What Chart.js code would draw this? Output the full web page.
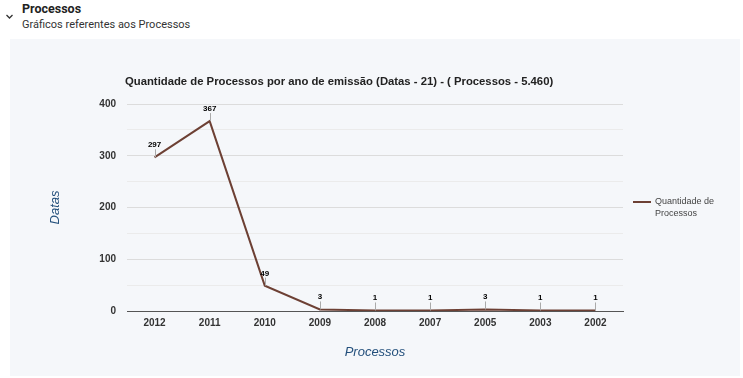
<!DOCTYPE html>
<html>
<head>
<meta charset="utf-8">
<script src="https://cdn.jsdelivr.net/npm/chart.js@4"></script>
<style>
  html, body { margin: 0; padding: 0; background: #ffffff; width: 743px; height: 378px; overflow: hidden; }
  #hdr-title { position: absolute; left: 22px; top: 1px; font-family: Roboto, "Noto Sans", sans-serif; font-weight: bold; font-size: 12.5px; color: #222; }
  #hdr-sub { position: absolute; left: 22px; top: 18px; font-family: Roboto, "Noto Sans", sans-serif; font-size: 11px; color: #333; }
  #chev { position: absolute; left: 5px; top: 13px; }
  #panel { position: absolute; left: 10px; top: 39px; width: 730px; height: 337px; background: #f5f7fa; }
  canvas { display: block; }
</style>
</head>
<body>
<svg id="chev" width="9" height="7" viewBox="0 0 9 7"><polyline points="1.5,2 4.5,5 7.5,2" fill="none" stroke="#333" stroke-width="1.3"/></svg>
<div id="hdr-title">Processos</div>
<div id="hdr-sub">Gráficos referentes aos Processos</div>
<div id="panel"><canvas id="c" width="730" height="337"></canvas></div>
<script>
const categories = ["2012", "2011", "2010", "2009", "2008", "2007", "2005", "2003", "2002"];
const seriesName = ["Quantidade de", "Processos"];
const values = [297, 367, 49, 3, 1, 1, 3, 1, 1];
const yTicks = [0, 100, 200, 300, 400];
const chartTitle = "Quantidade de Processos por ano de emissão (Datas - 21) - ( Processos - 5.460)";
const yTitle = "Datas";
const xTitle = "Processos";

const lineColor = "#6d4034";
const FONT = "Arial, 'Liberation Sans', sans-serif";

const decor = {
  id: 'decor',
  afterDatasetsDraw(chart) {
    const ctx = chart.ctx;
    const meta = chart.getDatasetMeta(0);
    ctx.save();
    meta.data.forEach((pt, i) => {
      ctx.strokeStyle = '#aaaaaa';
      ctx.lineWidth = 1;
      ctx.beginPath();
      ctx.moveTo(Math.round(pt.x) + 0.5, pt.y);
      ctx.lineTo(Math.round(pt.x) + 0.5, pt.y - 8);
      ctx.stroke();
      ctx.fillStyle = '#000';
      ctx.font = 'bold 8px ' + FONT;
      ctx.textAlign = 'center';
      ctx.textBaseline = 'alphabetic';
      ctx.fillText(String(values[i]), pt.x, pt.y - 10);
    });
    ctx.restore();
  },
  afterDraw(chart) {
    const ctx = chart.ctx;
    const a = chart.chartArea;
    ctx.save();
    // title
    ctx.fillStyle = '#222';
    ctx.font = 'bold 11.3px ' + FONT;
    ctx.textAlign = 'left';
    ctx.textBaseline = 'middle';
    ctx.fillText(chartTitle, a.left - 2, a.top - 22);
    // axis titles
    ctx.fillStyle = '#24507c';
    ctx.font = 'italic 13px ' + FONT;
    ctx.textAlign = 'center';
    ctx.fillText(xTitle, (a.left + a.right) / 2, a.bottom + 41);
    ctx.save();
    ctx.translate(a.left - 72, (a.top + a.bottom) / 2);
    ctx.rotate(-Math.PI / 2);
    ctx.fillText(yTitle, 0, 0);
    ctx.restore();
    // legend
    const ly = a.top + 98;
    ctx.strokeStyle = lineColor;
    ctx.lineWidth = 2;
    ctx.beginPath();
    ctx.moveTo(a.right + 10, ly);
    ctx.lineTo(a.right + 28, ly);
    ctx.stroke();
    ctx.fillStyle = '#444';
    ctx.font = '9px ' + FONT;
    ctx.textAlign = 'left';
    ctx.fillText(seriesName[0], a.right + 32, ly);
    ctx.fillText(seriesName[1], a.right + 32, ly + 12);
    ctx.restore();
  }
};

new Chart(document.getElementById('c'), {
  type: 'line',
  data: {
    labels: categories,
    datasets: [{
      label: seriesName.join(' '),
      data: values,
      borderColor: lineColor,
      backgroundColor: lineColor,
      borderWidth: 2,
      pointRadius: 0,
      tension: 0,
      fill: false
    }]
  },
  options: {
    responsive: false,
    animation: false,
    events: [],
    layout: { padding: { left: 77, right: 117, top: 65, bottom: 35 } },
    plugins: { legend: { display: false }, title: { display: false }, tooltip: { enabled: false } },
    scales: {
      x: {
        offset: true,
        grid: { display: false, drawTicks: false },
        border: { display: true, color: '#555', width: 1 },
        ticks: { color: '#333', font: { family: FONT, size: 10, weight: 'bold' }, padding: 6, maxRotation: 0, autoSkip: false },
        afterFit(s) { s.height = 30; }
      },
      y: {
        min: 0, max: 400,
        grid: {
          drawTicks: false,
          color: (c) => (c.tick && c.tick.value === 0) ? 'rgba(0,0,0,0)' : (yTicks.includes(c.tick.value) ? '#dcdcdc' : '#ebebeb'),
          lineWidth: 1
        },
        border: { display: false },
        ticks: {
          stepSize: 50,
          color: '#333',
          font: { family: FONT, size: 10, weight: 'bold' },
          padding: 11,
          callback: (v) => yTicks.includes(v) ? String(v) : ''
        },
        afterFit(s) { s.width = 40; }
      }
    }
  },
  plugins: [decor]
});
</script>
</body>
</html>
